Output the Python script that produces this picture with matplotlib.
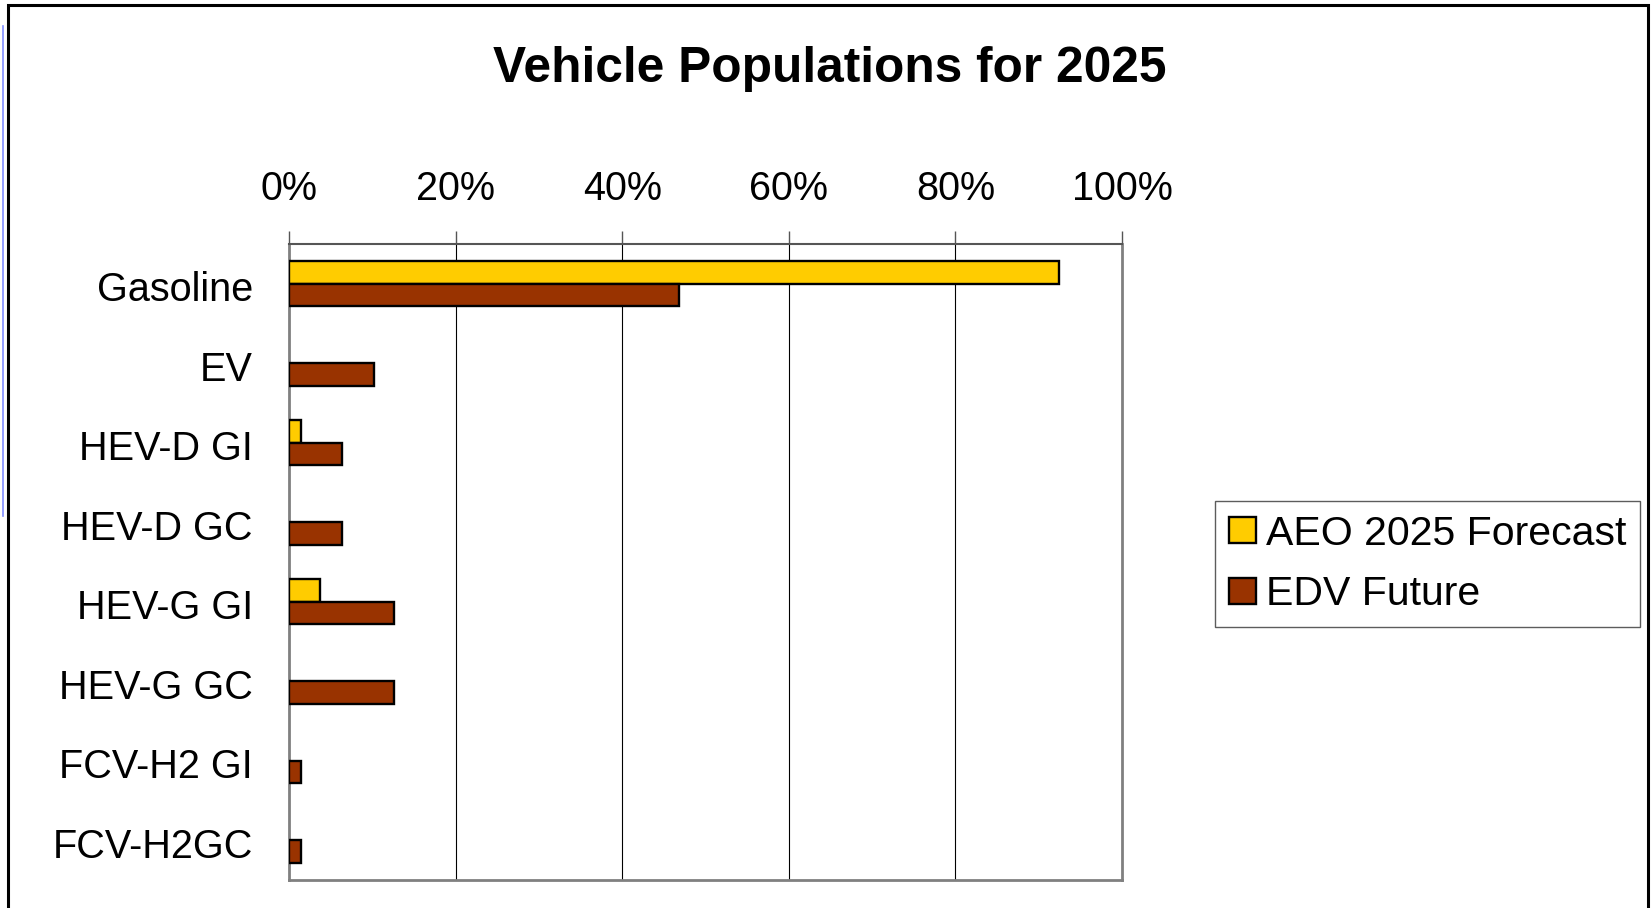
import numpy as np
import matplotlib
matplotlib.use("Agg")
import matplotlib.pyplot as plt
import matplotlib.transforms as mtransforms
from matplotlib.patches import Rectangle
from matplotlib.lines import Line2D

plt.rcParams["font.family"] = ["Liberation Sans", "DejaVu Sans"]

categories = ["Gasoline", "EV", "HEV-D GI", "HEV-D GC", "HEV-G GI",
              "HEV-G GC", "FCV-H2 GI", "FCV-H2GC"]
aeo_2025 = [92.4, 0, 1.5, 0, 3.7, 0, 0, 0]
edv_future = [46.8, 10.2, 6.4, 6.4, 12.6, 12.6, 1.5, 1.5]
series_names = ["AEO 2025 Forecast", "EDV Future"]
series_colors = ["#FFCC00", "#993300"]
x_ticks = [0, 20, 40, 60, 80, 100]

W, H = 1652, 908
fig = plt.figure(figsize=(W / 100, H / 100), dpi=100)
ax = fig.add_axes([289 / W, 1 - 880 / H, (1122 - 289) / W, (880 - 244) / H])

y = np.arange(len(categories))
h = 0.283
handles = []
for k, (vals, col, name) in enumerate(zip([aeo_2025, edv_future], series_colors, series_names)):
    vals = np.array(vals, dtype=float)
    keep = vals > 0
    off = -h / 2 if k == 0 else h / 2
    ax.barh(y[keep] + off, vals[keep], height=h, color=col,
            edgecolor="black", linewidth=1.7, zorder=3)
    handles.append(Rectangle((0, 0), 1, 1, facecolor=col, edgecolor="black", linewidth=1.7))

ax.set_xlim(0, 100)
ax.set_ylim(len(categories) - 0.5, -0.5)
ax.set_xticks(x_ticks)
ax.set_xticklabels([f"{t}%" for t in x_ticks])
ax.set_yticks(y)
ax.set_yticklabels(categories)
ax.xaxis.tick_top()
ax.tick_params(axis="x", top=True, bottom=False, length=9.5, width=1.0,
               color="#555555", pad=16.5, labelsize=28.5)
ax.tick_params(axis="y", left=False, length=0, pad=26, labelsize=28.5)
# nudge category labels down a little
shift = mtransforms.ScaledTranslation(0, -2.5 / 100, fig.dpi_scale_trans)
for lbl in ax.get_yticklabels():
    lbl.set_transform(lbl.get_transform() + shift)
for t in x_ticks[1:-1]:
    ax.axvline(t, color="black", linewidth=0.8, zorder=1)
for side in ["left", "bottom", "right"]:
    ax.spines[side].set_color("#808080")
    ax.spines[side].set_linewidth(2.0)
ax.spines["top"].set_color("#555555")
ax.spines["top"].set_linewidth(1.5)

fig.text(0.5025, 1 - 82 / H, "Vehicle Populations for 2025", ha="center",
         va="baseline", fontsize=35.7, fontweight="bold")

leg = fig.legend(handles, series_names, loc="upper left",
                 bbox_to_anchor=(1215 / W, 1 - 501 / H), bbox_transform=fig.transFigure,
                 borderaxespad=0, fontsize=29.5, frameon=True, fancybox=False,
                 handlelength=0.66, handleheight=0.62, handletextpad=0.26,
                 borderpad=0.33, labelspacing=0.56)
leg.get_frame().set_edgecolor("#333333")
leg.get_frame().set_linewidth(1.0)

# outer chart frame and the slide edge behind it
fig.patches.append(Rectangle((8 / W, -0.02), (1648 - 8) / W, 1.02 - 5 / H, fill=False,
                             edgecolor="black", linewidth=2.2, transform=fig.transFigure,
                             figure=fig))
fig.lines.append(Line2D([3 / W, 3 / W], [1 - 26 / H, 1 - 516 / H], color="#7f8cff",
                        linewidth=1.2, transform=fig.transFigure, figure=fig))

fig.savefig("out.png", dpi=100)
